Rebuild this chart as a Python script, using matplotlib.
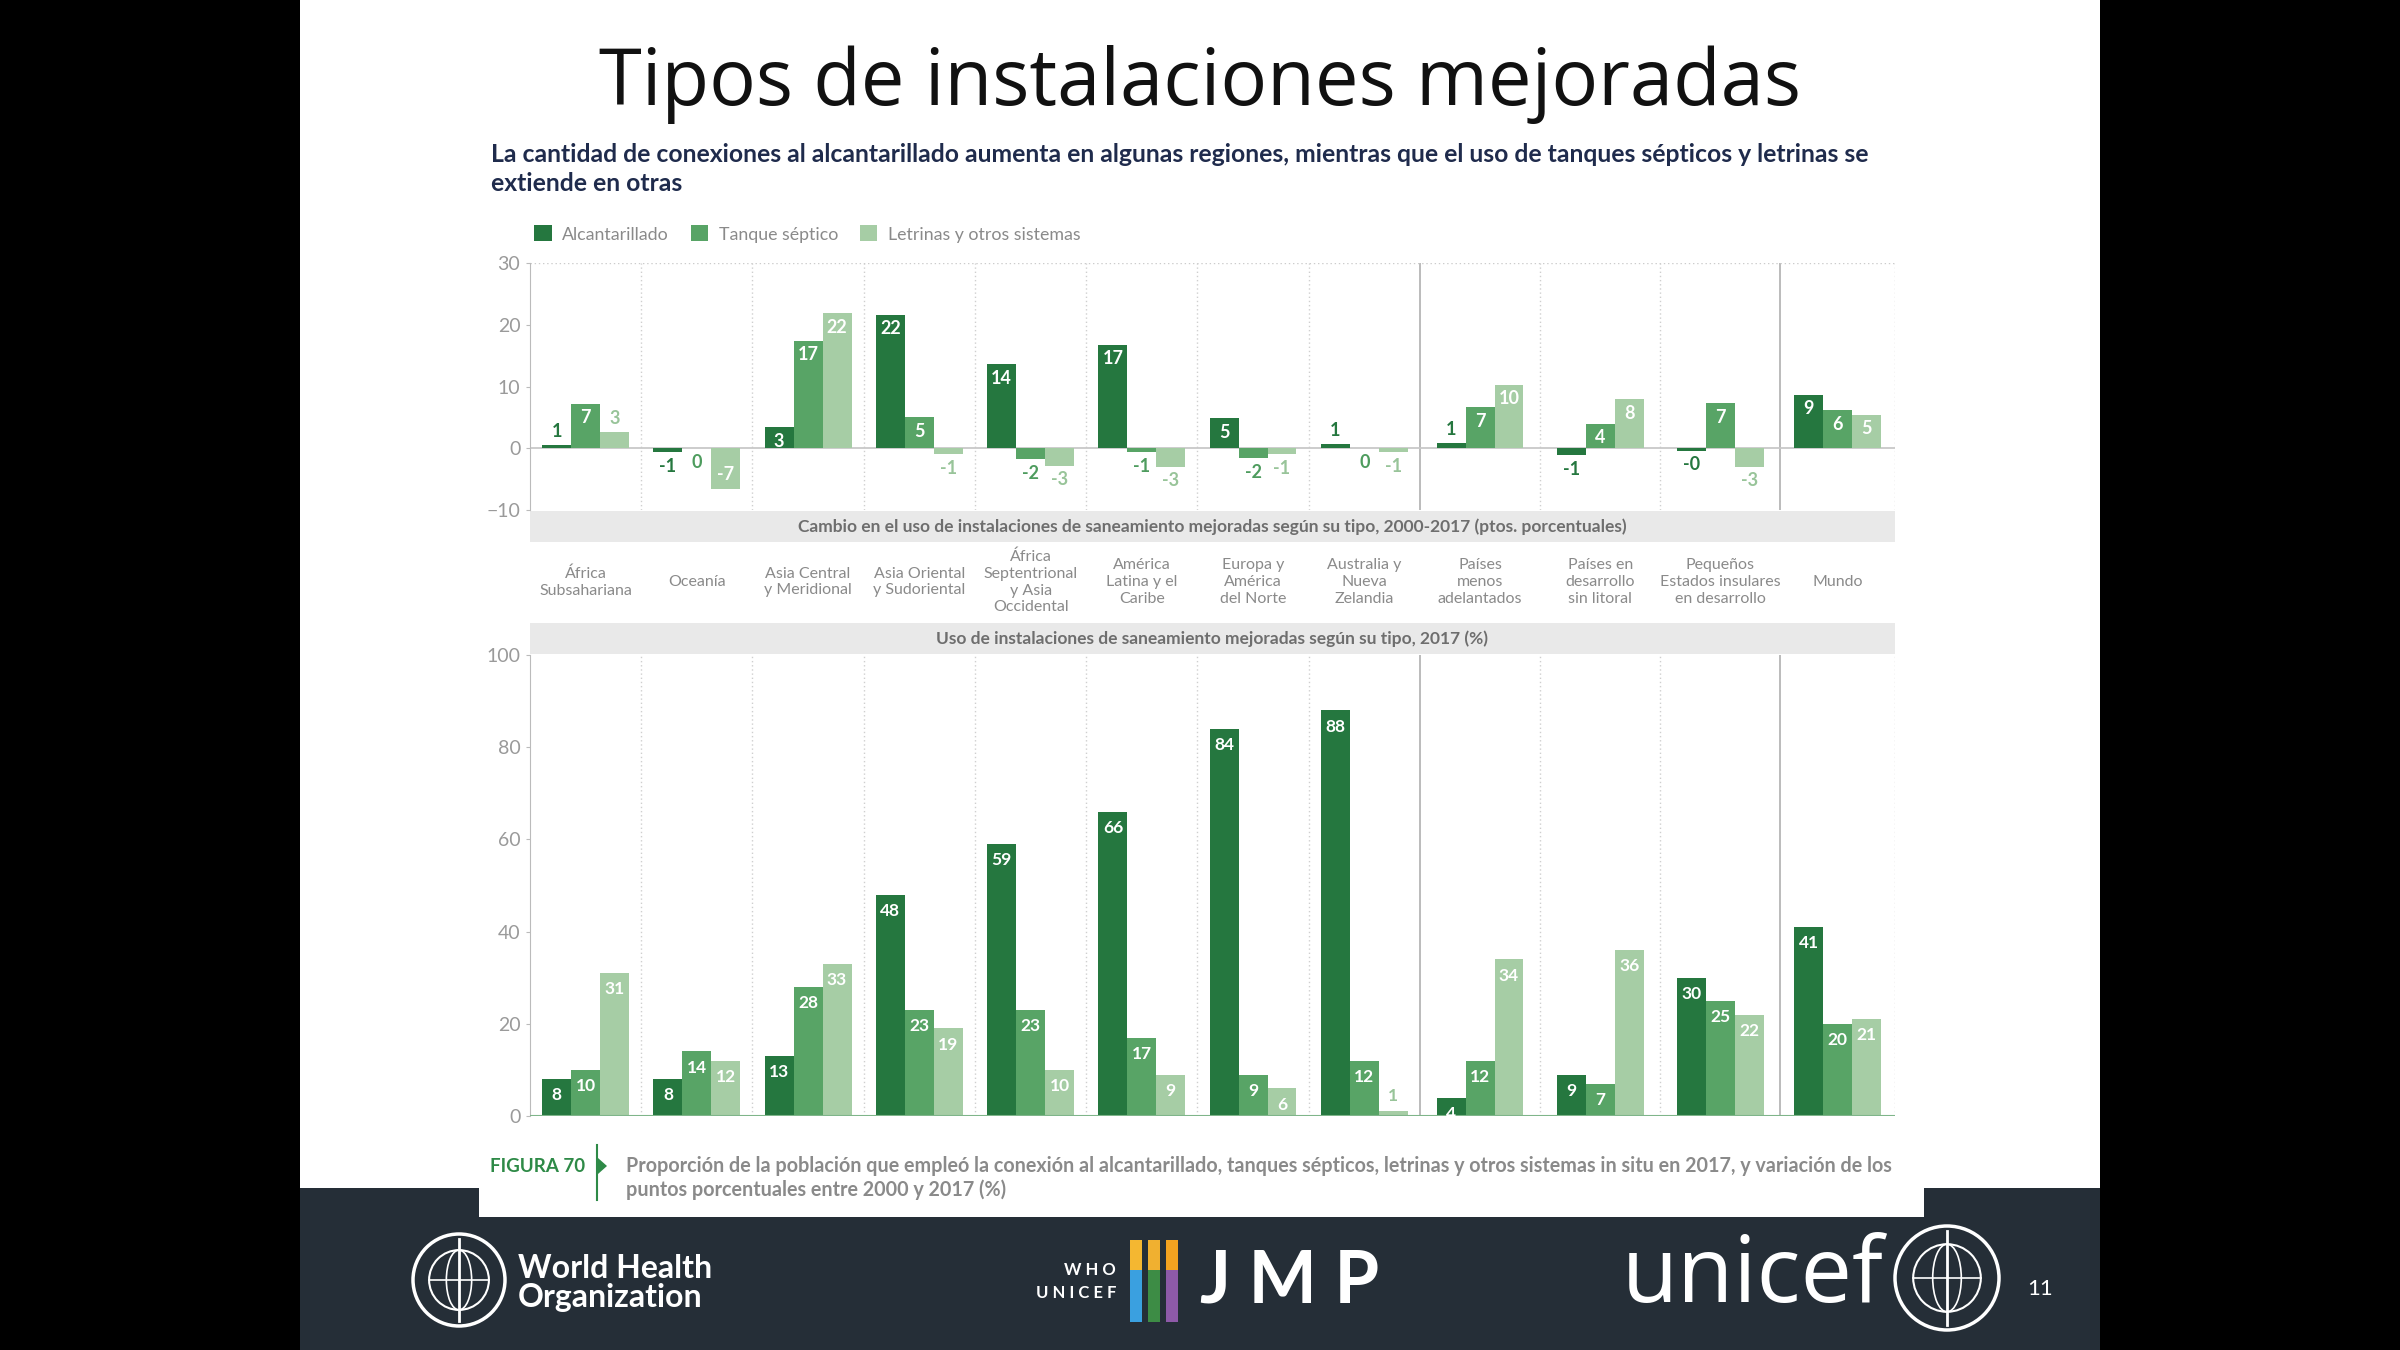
import matplotlib.pyplot as plt
import numpy as np
from matplotlib.patches import Rectangle, Ellipse, Polygon

# ---- data ----
categorias = ['África\nSubsahariana', 'Oceanía', 'Asia Central\ny Meridional',
              'Asia Oriental\ny Sudoriental', 'África\nSeptentrional\ny Asia\nOccidental',
              'América\nLatina y el\nCaribe', 'Europa y\nAmérica\ndel Norte',
              'Australia y\nNueva\nZelandia', 'Países\nmenos\nadelantados',
              'Países en\ndesarrollo\nsin litoral', 'Pequeños\nEstados insulares\nen desarrollo',
              'Mundo']
series = ['Alcantarillado', 'Tanque séptico', 'Letrinas y otros sistemas']

# cambio 2000-2017 (ptos. porcentuales)
cambio_alc = [0.6, -0.6, 3.4, 21.6, 13.6, 16.8, 4.9, 0.7, 0.9, -1.1, -0.4, 8.7]
cambio_tan = [7.2, 0.0, 17.4, 5.0, -1.8, -0.6, -1.6, 0.0, 6.6, 4.0, 7.3, 6.2]
cambio_let = [2.6, -6.6, 21.9, -1.0, -2.8, -3.0, -1.0, -0.6, 10.3, 7.9, -3.0, 5.4]

# uso 2017 (%)
uso_alc = [8, 8, 13, 48, 59, 66, 84, 88, 4, 9, 30, 41]
uso_tan = [10, 14, 28, 23, 23, 17, 9, 12, 12, 7, 25, 20]
uso_let = [31, 12, 33, 19, 10, 9, 6, 1, 34, 36, 22, 21]

colores = ['#25773f', '#58a466', '#a6cda5']
colores_txt = ['#25773f', '#4e9c5e', '#98c499']

W, H = 2400, 1350


def fx(x):
    return x / W


def fy(y):
    return 1 - y / H


plt.rcParams['font.family'] = ['Lato', 'DejaVu Sans']

fig = plt.figure(figsize=(24, 13.5), dpi=100, facecolor='black')

# slide background, footer and figure card
fig.patches.append(Rectangle((fx(300), fy(1188)), fx(1800), 1188 / H, transform=fig.transFigure,
                             facecolor='white', edgecolor='none', zorder=-3))
fig.patches.append(Rectangle((fx(300), 0), fx(1800), 162 / H, transform=fig.transFigure,
                             facecolor='#252e37', edgecolor='none', zorder=-3))
fig.patches.append(Rectangle((fx(479), fy(1217)), fx(1445), 80 / H, transform=fig.transFigure,
                             facecolor='white', edgecolor='none', zorder=-2))

# titles
fig.text(0.5, fy(84), 'Tipos de instalaciones mejoradas', ha='center', va='center',
         fontsize=56, color='#111111', family=['Open Sans', 'DejaVu Sans'])
fig.text(fx(491), fy(169), 'La cantidad de conexiones al alcantarillado aumenta en algunas regiones, '
         'mientras que el uso de tanques sépticos y letrinas se\nextiende en otras',
         ha='left', va='center', fontsize=17.8, fontweight='bold', color='#1f2b4c',
         linespacing=1.3)

# group layout
anchos = np.array([1.0] * 8 + [1.08] * 3 + [1.03])
bordes = np.concatenate([[0], np.cumsum(anchos)])
centros = (bordes[:-1] + bordes[1:]) / 2
bw = 0.26
offs = [-bw, 0, bw]

ax_l, ax_r = fx(530), fx(1895)
ax1 = fig.add_axes([ax_l, fy(510), ax_r - ax_l, (510 - 263) / H], zorder=5)
ax2 = fig.add_axes([ax_l, fy(1116), ax_r - ax_l, (1116 - 655) / H], zorder=5)


def estilo(ax, ylim, ticks):
    ax.set_facecolor('none')
    ax.set_xlim(0, bordes[-1])
    ax.set_ylim(*ylim)
    ax.set_yticks(ticks)
    ax.set_xticks([])
    for s in ['top', 'right', 'bottom']:
        ax.spines[s].set_visible(False)
    ax.spines['left'].set_color('#bbbbbb')
    ax.tick_params(axis='y', length=3, color='#bbbbbb', labelcolor='#9a9a9a', labelsize=14, pad=4)
    for i, b in enumerate(bordes[1:]):
        if i in (7, 10):
            ax.axvline(b, color='#b5b5b5', lw=1.3, zorder=1)
        else:
            ax.axvline(b, color='#cfcfcf', lw=1, ls=(0, (1, 2)), zorder=1)


estilo(ax1, (-10, 30), [-10, 0, 10, 20, 30])
ax1.axhline(30, color='#cccccc', lw=1, ls=(0, (1, 2)), zorder=1)
ax1.axhline(0, color='#c8c8c8', lw=1.3, zorder=1)

estilo(ax2, (0, 100), [0, 20, 40, 60, 80, 100])
ax2.axhline(0, color='#7fb58a', lw=1.5, zorder=4)

cambio = [cambio_alc, cambio_tan, cambio_let]
uso = [uso_alc, uso_tan, uso_let]

for k in range(3):
    ax1.bar(centros + offs[k], cambio[k], width=bw, color=colores[k], zorder=3,
            label=series[k])
    ax2.bar(centros + offs[k], uso[k], width=bw, color=colores[k], zorder=3)

    for x, v in zip(centros + offs[k], cambio[k]):
        t = f'{v:.0f}'
        if v >= 3.2:
            ax1.text(x, v - 0.9, t, ha='center', va='top', color='white', fontsize=13,
                     fontweight='bold', zorder=5)
        elif v > 0:
            ax1.text(x, v + 0.8, t, ha='center', va='bottom', color=colores_txt[k], fontsize=13,
                     fontweight='bold', zorder=5)
        elif v <= -3.2:
            ax1.text(x, v + 0.9, t, ha='center', va='bottom', color='white', fontsize=13,
                     fontweight='bold', zorder=5)
        else:
            ax1.text(x, v - 0.9, t, ha='center', va='top', color=colores_txt[k], fontsize=13,
                     fontweight='bold', zorder=5)

    for x, v in zip(centros + offs[k], uso[k]):
        if v >= 3:
            ax2.text(x, v - 1.8, f'{v}', ha='center', va='top', color='white', fontsize=12.5,
                     fontweight='bold', zorder=5)
        else:
            ax2.text(x, v + 1.5, f'{v}', ha='center', va='bottom', color=colores_txt[k],
                     fontsize=12.5, fontweight='bold', zorder=5)

# legend
leg = fig.legend(*ax1.get_legend_handles_labels(), loc='center left',
                 bbox_to_anchor=(fx(518), fy(234)), ncol=3, frameon=False, fontsize=12.8,
                 handlelength=1.0, handleheight=1.0, handletextpad=0.6, columnspacing=1.2)
for t in leg.get_texts():
    t.set_color('#8a8a8a')

# grey bands with sub-titles
for y0, txt in [(511, 'Cambio en el uso de instalaciones de saneamiento mejoradas según su tipo, '
                      '2000-2017 (ptos. porcentuales)'),
                (623, 'Uso de instalaciones de saneamiento mejoradas según su tipo, 2017 (%)')]:
    fig.patches.append(Rectangle((ax_l, fy(y0 + 31)), ax_r - ax_l, 31 / H,
                                 transform=fig.transFigure, facecolor='#e9e9e9',
                                 edgecolor='none', zorder=-1))
    fig.text((ax_l + ax_r) / 2, fy(y0 + 15.5), txt, ha='center', va='center', fontsize=12.5,
             fontweight='bold', color='#6e6e6e')

# category labels between panels
for c, lab in zip(centros, categorias):
    xf = ax_l + (ax_r - ax_l) * c / bordes[-1]
    fig.text(xf, fy(582), lab, ha='center', va='center', fontsize=11.5, color='#8a8a8a',
             linespacing=1.25)

# caption
fig.text(fx(490), fy(1166), 'FIGURA 70', ha='left', va='center', fontsize=13.5,
         fontweight='bold', color='#2e8a47')
fig.add_artist(plt.Line2D([fx(597), fx(597)], [fy(1145), fy(1200)], color='#2e8a47', lw=1.5,
                          transform=fig.transFigure))
fig.patches.append(Polygon([[fx(598), fy(1158)], [fx(607), fy(1166)], [fx(598), fy(1174)]],
                           closed=True, transform=fig.transFigure, facecolor='#2e8a47',
                           edgecolor='none'))
fig.text(fx(626), fy(1178), 'Proporción de la población que empleó la conexión al alcantarillado, '
         'tanques sépticos, letrinas y otros sistemas in situ en 2017, y variación de los\n'
         'puntos porcentuales entre 2000 y 2017 (%)', ha='left', va='center', fontsize=14.2,
         fontweight='bold', color='#8a8a8a', linespacing=1.25)


# footer logos (simplified)
def emblema(cx, cy, r):
    for sx, sy, lw in [(2.0, 2.0, 2.5), (1.3, 1.3, 1.5), (0.55, 1.3, 1.2)]:
        fig.patches.append(Ellipse((fx(cx), fy(cy)), sx * r / W, sy * r / H,
                                   transform=fig.transFigure, facecolor='none',
                                   edgecolor='white', lw=lw))
    fig.add_artist(plt.Line2D([fx(cx - 0.65 * r), fx(cx + 0.65 * r)], [fy(cy), fy(cy)],
                              color='white', lw=1.2, transform=fig.transFigure))
    fig.add_artist(plt.Line2D([fx(cx), fx(cx)], [fy(cy - 0.9 * r), fy(cy + 0.9 * r)],
                              color='white', lw=2, transform=fig.transFigure))


emblema(459, 1280, 46)
fig.text(fx(518), fy(1283), 'World Health\nOrganization', ha='left', va='center', fontsize=23,
         fontweight='bold', color='white', linespacing=1.0)

fig.text(fx(1116), fy(1270), 'W H O', ha='right', va='center', fontsize=12,
         fontweight='bold', color='white')
fig.text(fx(1116), fy(1293), 'U N I C E F', ha='right', va='center', fontsize=12,
         fontweight='bold', color='white')
barras_logo = [('#3aa0e0', '#f4b731'), ('#3d8c45', '#f0b030'), ('#8e5aa8', '#f2a220')]
for i, (cb, ct) in enumerate(barras_logo):
    x0 = 1130 + i * 18
    fig.patches.append(Rectangle((fx(x0), fy(1322)), 12 / W, 52 / H, transform=fig.transFigure,
                                 facecolor=cb, edgecolor='none'))
    fig.patches.append(Rectangle((fx(x0), fy(1270)), 12 / W, 30 / H, transform=fig.transFigure,
                                 facecolor=ct, edgecolor='none'))
fig.text(fx(1200), fy(1282), 'J M P', ha='left', va='center', fontsize=52, fontweight='bold',
         color='white')

fig.text(fx(1622), fy(1278), 'unicef', ha='left', va='center', fontsize=66, color='white',
         family=['Open Sans', 'DejaVu Sans'])
emblema(1947, 1278, 52)
fig.text(fx(2040), fy(1289), '11', ha='center', va='center', fontsize=16, color='white')

fig.savefig('out.png', dpi=100, facecolor=fig.get_facecolor())
